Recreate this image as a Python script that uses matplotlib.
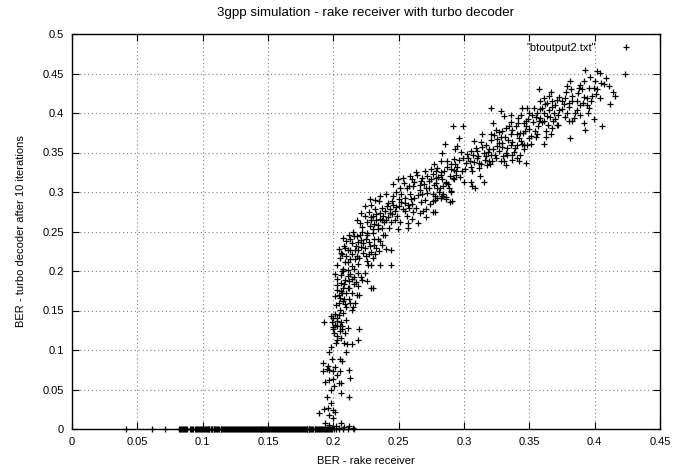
import matplotlib
matplotlib.use("Agg")
import matplotlib.pyplot as plt

# points lying on BER_turbo = 0
zero_x = [0.0413, 0.0612, 0.0712, 0.082, 0.0828, 0.0835, 0.0843, 0.085, 0.0858, 0.0868, 0.0874,
          0.088, 0.0905, 0.0912, 0.092, 0.0928, 0.094, 0.0947, 0.0958, 0.0963, 0.097, 0.0978,
          0.0985, 0.0992, 0.1, 0.1008, 0.1015, 0.1022, 0.103, 0.1037, 0.1046, 0.1052, 0.106,
          0.1068, 0.1075, 0.1083, 0.109, 0.1097, 0.1105, 0.1112, 0.112, 0.1128, 0.1137, 0.1143,
          0.115, 0.1158, 0.1165, 0.1172, 0.118, 0.1188, 0.1196, 0.1203, 0.121, 0.1217, 0.1225,
          0.1233, 0.124, 0.1248, 0.1255, 0.1262, 0.127, 0.1278, 0.1287, 0.1293, 0.13, 0.1308,
          0.1315, 0.1322, 0.133, 0.1337, 0.1345, 0.1352, 0.136, 0.1368, 0.1378, 0.1383, 0.139,
          0.1398, 0.1405, 0.1413, 0.142, 0.1428, 0.1437, 0.1443, 0.145, 0.1457, 0.1465, 0.1473,
          0.148, 0.1488, 0.1496, 0.1503, 0.151, 0.1517, 0.1525, 0.1532, 0.154, 0.1548, 0.1557,
          0.1563, 0.157, 0.1578, 0.1585, 0.1592, 0.16, 0.1608, 0.1616, 0.1622, 0.163, 0.1637,
          0.1645, 0.1652, 0.166, 0.1668, 0.1675, 0.1683, 0.169, 0.1698, 0.1706, 0.1712, 0.172,
          0.1727, 0.1735, 0.1742, 0.175, 0.1758, 0.1768, 0.1773, 0.178, 0.1788, 0.1795, 0.1802,
          0.181, 0.1817, 0.1825, 0.1832, 0.184, 0.1848, 0.1857, 0.1863, 0.187, 0.1877, 0.1885,
          0.1893, 0.19, 0.1908, 0.1916, 0.1922, 0.193, 0.1937, 0.1945, 0.1952, 0.196, 0.1968,
          0.1975, 0.1983, 0.199, 0.2005, 0.202, 0.2045, 0.2075, 0.211, 0.2155]

# scattered cloud (rake BER, turbo BER) - outer points
cloud_x = [
    0.189, 0.193, 0.196, 0.1995, 0.201, 0.198, 0.195, 0.197, 0.200, 0.194, 0.197, 0.202,
    0.206, 0.208, 0.212, 0.215, 0.204, 0.199,
    0.192, 0.192, 0.195, 0.197, 0.1995, 0.205, 0.212, 0.194, 0.197, 0.2005, 0.204, 0.206,
    0.2055, 0.213, 0.212, 0.205, 0.207, 0.2095,
    0.193, 0.198, 0.200, 0.201, 0.1995, 0.2005, 0.2025, 0.205, 0.207, 0.209, 0.206, 0.208,
    0.2105, 0.214, 0.219, 0.2195, 0.198, 0.2025, 0.197, 0.2025, 0.206, 0.2095, 0.2075,
    0.201, 0.2075, 0.211, 0.2055, 0.203, 0.201, 0.205, 0.2075, 0.210, 0.212, 0.215, 0.2165,
    0.218, 0.220, 0.219, 0.2155, 0.212, 0.2145, 0.212, 0.2095, 0.2075, 0.211, 0.2145, 0.205,
    0.204, 0.2285, 0.2305, 0.226, 0.2215, 0.2065,
    0.2025, 0.2075, 0.205, 0.206, 0.209, 0.2095, 0.2125, 0.2145, 0.213, 0.218, 0.2205, 0.219,
    0.2215, 0.2225, 0.220, 0.2165, 0.214, 0.2075, 0.2265, 0.229, 0.225, 0.2275, 0.2315, 0.235,
    0.240, 0.2445, 0.2445, 0.2375, 0.234, 0.2395, 0.2305, 0.2165, 0.225, 0.2305, 0.2355, 0.2115,
    0.218, 0.2205, 0.224, 0.2275, 0.2305, 0.233, 0.236, 0.2395, 0.243, 0.247, 0.2495, 0.248,
    0.245, 0.2415, 0.235, 0.240, 0.2455, 0.2505, 0.2545, 0.258, 0.261, 0.2645, 0.257, 0.257,
    0.2685, 0.271, 0.2765, 0.2765, 0.2795, 0.283, 0.286, 0.2895, 0.290, 0.228, 0.2305, 0.234,
    0.2375, 0.2425, 0.2255, 0.229, 0.232, 0.2375, 0.2405, 0.2545, 0.2595,
    0.2455, 0.2495, 0.2535, 0.2585, 0.263, 0.267, 0.2695, 0.272, 0.2765, 0.2825, 0.2865, 0.2915,
    0.294, 0.256, 0.261, 0.266, 0.2785, 0.2885, 0.2735,
    0.2776, 0.2776, 0.2822, 0.286, 0.291, 0.290, 0.2796, 0.284, 0.2865, 0.2925, 0.294, 0.289,
    0.2822, 0.2784, 0.2771, 0.2822, 0.2835, 0.2873, 0.2898, 0.2924, 0.295, 0.2987, 0.2995,
    0.2784, 0.2745,
    0.2852, 0.2919, 0.2995, 0.2962, 0.295, 0.293, 0.3025, 0.3046, 0.3071, 0.310, 0.3013, 0.3056,
    0.3115, 0.3051, 0.3081, 0.3153, 0.3064, 0.3076, 0.3140, 0.3127, 0.3165, 0.319, 0.3204,
    0.3165, 0.319, 0.3242, 0.3267, 0.3293, 0.328, 0.3293, 0.3242, 0.3224, 0.3204, 0.3285,
    0.3306, 0.3356, 0.3344, 0.3356, 0.3369, 0.333, 0.3318, 0.3306, 0.3318, 0.3369, 0.3407,
    0.3428, 0.3458, 0.3445, 0.342, 0.3407, 0.3413, 0.3433, 0.3471, 0.3484, 0.3496, 0.3471,
    0.3496, 0.3484, 0.3509, 0.356, 0.3611, 0.3267, 0.3153, 0.3115, 0.328, 0.3326, 0.3382,
    0.342, 0.3471, 0.3255, 0.3216, 0.3178, 0.3102, 0.3204, 0.3356, 0.3407, 0.3452, 0.3445,
    0.3522, 0.3535, 0.356, 0.3585, 0.3611, 0.3636, 0.3649, 0.3585, 0.3611, 0.3649, 0.3636,
    0.3572, 0.3674, 0.3687, 0.370, 0.3712, 0.3674, 0.3624, 0.3662, 0.3725, 0.3751, 0.3764,
    0.3776, 0.3789, 0.3809, 0.3827, 0.3865, 0.3878, 0.3891, 0.3916, 0.3929, 0.3962, 0.398,
    0.3942, 0.3911, 0.3865, 0.384, 0.3789, 0.3827, 0.3916, 0.3929, 0.3954, 0.3993, 0.3814,
    0.3712, 0.3662, 0.3802, 0.3598, 0.3573,
    0.4018, 0.4038, 0.4048, 0.4069, 0.4089, 0.4107, 0.4013, 0.4043, 0.4139, 0.4158, 0.412,
    0.4056, 0.4234, 0.3993,
]
cloud_y = [
    0.020, 0.025, 0.026, 0.024, 0.021, 0.033, 0.041, 0.018, 0.014, 0.007, 0.005, 0.004,
    0.008, 0.002, 0.004, 0.001, 0.001, 0.001,
    0.084, 0.073, 0.076, 0.075, 0.074, 0.074, 0.075, 0.060, 0.062, 0.055, 0.058, 0.058,
    0.046, 0.064, 0.041, 0.088, 0.086, 0.097,
    0.135, 0.143, 0.140, 0.132, 0.126, 0.121, 0.130, 0.124, 0.126, 0.121, 0.115, 0.109,
    0.108, 0.107, 0.113, 0.126, 0.104, 0.113, 0.098, 0.140, 0.136, 0.138, 0.147,
    0.196, 0.200, 0.194, 0.185, 0.176, 0.168, 0.166, 0.162, 0.155, 0.164, 0.154, 0.159,
    0.170, 0.170, 0.181, 0.183, 0.187, 0.190, 0.179, 0.172, 0.179, 0.201, 0.151, 0.151,
    0.160, 0.179, 0.179, 0.187, 0.193, 0.172,
    0.208, 0.242, 0.217, 0.223, 0.229, 0.219, 0.227, 0.235, 0.240, 0.244, 0.246, 0.237,
    0.231, 0.223, 0.217, 0.215, 0.206, 0.202, 0.208, 0.207, 0.241, 0.237, 0.233, 0.225,
    0.228, 0.227, 0.208, 0.233, 0.241, 0.246, 0.248, 0.227, 0.219, 0.217, 0.208, 0.212,
    0.265, 0.261, 0.270, 0.275, 0.270, 0.265, 0.274, 0.276, 0.274, 0.265, 0.253, 0.281,
    0.289, 0.286, 0.289, 0.297, 0.295, 0.291, 0.286, 0.280, 0.275, 0.261, 0.261, 0.255,
    0.276, 0.278, 0.275, 0.289, 0.293, 0.295, 0.291, 0.287, 0.300, 0.257, 0.253, 0.253,
    0.255, 0.255, 0.248, 0.264, 0.278, 0.264, 0.265, 0.276, 0.291,
    0.310, 0.316, 0.318, 0.320, 0.325, 0.314, 0.310, 0.320, 0.323, 0.325, 0.312, 0.318,
    0.327, 0.305, 0.308, 0.303, 0.312, 0.305, 0.305,
    0.275, 0.290, 0.293, 0.294, 0.288, 0.301, 0.305, 0.307, 0.313, 0.316, 0.322, 0.320,
    0.322, 0.326, 0.335, 0.339, 0.349, 0.332, 0.335, 0.328, 0.332, 0.326, 0.343,
    0.318, 0.316,
    0.361, 0.383, 0.383, 0.368, 0.358, 0.354, 0.348, 0.339, 0.347, 0.343, 0.337, 0.332,
    0.330, 0.313, 0.305, 0.313, 0.307, 0.364, 0.373, 0.363, 0.360, 0.354, 0.347,
    0.345, 0.339, 0.343, 0.352, 0.362, 0.369, 0.377, 0.379, 0.387, 0.406, 0.402,
    0.396, 0.398, 0.383, 0.373, 0.363, 0.356, 0.349, 0.339, 0.334, 0.341, 0.343,
    0.347, 0.354, 0.361, 0.368, 0.373, 0.387, 0.397, 0.390, 0.406, 0.400, 0.383,
    0.368, 0.360, 0.371, 0.373, 0.361, 0.362, 0.349, 0.337, 0.339, 0.347, 0.351,
    0.339, 0.337, 0.358, 0.339, 0.334, 0.352, 0.373, 0.360, 0.360, 0.375, 0.406,
    0.398, 0.406, 0.400, 0.394, 0.390, 0.396, 0.404, 0.415, 0.419, 0.421, 0.413,
    0.430, 0.408, 0.400, 0.392, 0.385, 0.381, 0.377, 0.373, 0.404, 0.415, 0.411,
    0.419, 0.434, 0.441, 0.421, 0.415, 0.432, 0.436, 0.440, 0.454, 0.445, 0.421,
    0.419, 0.413, 0.404, 0.394, 0.400, 0.390, 0.387, 0.379, 0.406, 0.392, 0.368,
    0.417, 0.427, 0.413, 0.406, 0.390,
    0.453, 0.451, 0.438, 0.437, 0.444, 0.434, 0.424, 0.419, 0.426, 0.422, 0.412,
    0.384, 0.450, 0.432,
]

# dense core of the cloud
core_x = [
    0.208, 0.211, 0.214, 0.216, 0.217, 0.219, 0.221, 0.223, 0.224, 0.226, 0.228, 0.229,
    0.231, 0.233, 0.236, 0.238, 0.212, 0.215, 0.222, 0.209, 0.213, 0.218, 0.227, 0.232,
    0.207, 0.204, 0.210, 0.226, 0.219, 0.216,
    0.203, 0.206, 0.208, 0.209, 0.213, 0.216, 0.217, 0.211, 0.206, 0.214, 0.204, 0.208,
    0.213, 0.209, 0.202, 0.219, 0.222, 0.224, 0.207, 0.203,
    0.201, 0.204, 0.203, 0.200, 0.205, 0.203, 0.207, 0.202, 0.199, 0.211,
    0.196, 0.201, 0.199, 0.203, 0.200, 0.198,
    0.226, 0.229, 0.231, 0.233, 0.234, 0.236, 0.237, 0.238, 0.239, 0.241, 0.242, 0.243,
    0.244, 0.245, 0.246, 0.247, 0.249, 0.250, 0.251, 0.252, 0.253, 0.255, 0.256, 0.257,
    0.259, 0.260, 0.262, 0.263, 0.265, 0.267, 0.268, 0.270, 0.272, 0.274, 0.276, 0.278,
    0.281, 0.284, 0.229, 0.232, 0.236, 0.248, 0.252, 0.222, 0.221, 0.224, 0.228, 0.260,
    0.266, 0.271,
    0.251, 0.254, 0.258, 0.260, 0.262, 0.264, 0.266, 0.268, 0.270, 0.273, 0.275, 0.277,
    0.279, 0.280, 0.283, 0.285, 0.287, 0.288, 0.290, 0.292, 0.293, 0.296, 0.297, 0.298,
    0.301, 0.303, 0.305, 0.306, 0.308, 0.309, 0.311, 0.313, 0.314, 0.316, 0.318, 0.320,
    0.322, 0.324, 0.271, 0.282, 0.300, 0.312,
    0.321, 0.323, 0.325, 0.327, 0.329, 0.331, 0.332, 0.334, 0.336, 0.337, 0.339, 0.340,
    0.341, 0.343, 0.344, 0.346, 0.347, 0.349, 0.350, 0.351, 0.353, 0.354, 0.355, 0.357,
    0.358, 0.360, 0.361, 0.362, 0.364, 0.366, 0.367, 0.368, 0.370, 0.372, 0.373, 0.375,
    0.377, 0.378, 0.380, 0.382, 0.383, 0.385, 0.387, 0.389, 0.390, 0.392, 0.394, 0.396,
    0.397, 0.400, 0.402, 0.395, 0.389, 0.380, 0.372, 0.363, 0.355, 0.346, 0.337, 0.330,
]
core_y = [
    0.232, 0.226, 0.221, 0.244, 0.232, 0.226, 0.239, 0.236, 0.229, 0.245, 0.232, 0.224,
    0.241, 0.229, 0.238, 0.245, 0.245, 0.249, 0.249, 0.212, 0.215, 0.219, 0.221, 0.222,
    0.221, 0.228, 0.238, 0.213, 0.209, 0.203,
    0.190, 0.195, 0.184, 0.189, 0.196, 0.192, 0.186, 0.178, 0.175, 0.172, 0.169, 0.164,
    0.160, 0.158, 0.157, 0.197, 0.188, 0.197, 0.200, 0.182,
    0.146, 0.144, 0.137, 0.129, 0.131, 0.118, 0.131, 0.109, 0.135, 0.128,
    0.080, 0.079, 0.088, 0.068, 0.063, 0.050,
    0.262, 0.268, 0.260, 0.272, 0.258, 0.266, 0.280, 0.270, 0.262, 0.282, 0.268, 0.279,
    0.262, 0.272, 0.283, 0.276, 0.270, 0.282, 0.262, 0.287, 0.278, 0.293, 0.270, 0.283,
    0.298, 0.285, 0.292, 0.280, 0.296, 0.287, 0.297, 0.290, 0.299, 0.285, 0.298, 0.295,
    0.300, 0.298, 0.283, 0.290, 0.295, 0.300, 0.297, 0.256, 0.274, 0.282, 0.291, 0.266,
    0.274, 0.268,
    0.305, 0.312, 0.308, 0.316, 0.313, 0.321, 0.309, 0.318, 0.326, 0.314, 0.329, 0.309,
    0.330, 0.319, 0.316, 0.326, 0.339, 0.310, 0.329, 0.342, 0.335, 0.340, 0.319, 0.351,
    0.329, 0.343, 0.352, 0.327, 0.338, 0.356, 0.345, 0.335, 0.357, 0.341, 0.351, 0.335,
    0.355, 0.347, 0.305, 0.305, 0.313, 0.320,
    0.366, 0.372, 0.367, 0.376, 0.357, 0.370, 0.381, 0.366, 0.389, 0.378, 0.356, 0.383,
    0.394, 0.375, 0.365, 0.387, 0.377, 0.393, 0.380, 0.361, 0.389, 0.377, 0.395, 0.383,
    0.405, 0.389, 0.400, 0.412, 0.385, 0.395, 0.415, 0.390, 0.410, 0.398, 0.420, 0.405,
    0.395, 0.426, 0.408, 0.430, 0.415, 0.400, 0.425, 0.410, 0.430, 0.420, 0.410, 0.432,
    0.415, 0.440, 0.430, 0.400, 0.398, 0.390, 0.385, 0.370, 0.370, 0.360, 0.347, 0.345,
]

x_ticks = [0, 0.05, 0.1, 0.15, 0.2, 0.25, 0.3, 0.35, 0.4, 0.45]
x_tick_labels = ["0", "0.05", "0.1", "0.15", "0.2", "0.25", "0.3", "0.35", "0.4", "0.45"]
y_ticks = [0, 0.05, 0.1, 0.15, 0.2, 0.25, 0.3, 0.35, 0.4, 0.45, 0.5]
y_tick_labels = ["0", "0.05", "0.1", "0.15", "0.2", "0.25", "0.3", "0.35", "0.4", "0.45", "0.5"]

plt.rcParams['font.family'] = ['Liberation Sans', 'DejaVu Sans']
plt.rcParams['font.size'] = 8

fig = plt.figure(figsize=(6.9, 4.7), dpi=100)
ax = fig.add_axes([72/690, 1 - 429/470, (660-72)/690, (429-34)/470])

all_x = zero_x + cloud_x + core_x
all_y = [0.0] * len(zero_x) + cloud_y + core_y
ax.plot(all_x, all_y, linestyle='none', marker='+', markersize=5, markeredgewidth=0.9,
        color='black', label='"btoutput2.txt"', clip_on=False, zorder=3)

ax.set_xlim(0, 0.45)
ax.set_ylim(0, 0.5)
ax.set_xticks(x_ticks)
ax.set_xticklabels(x_tick_labels)
ax.set_yticks(y_ticks)
ax.set_yticklabels(y_tick_labels)
ax.tick_params(direction='in', top=True, right=True, length=5, width=0.8, pad=6)
ax.grid(True, linestyle=(0, (1, 2.5)), color='#808080', linewidth=0.8)
for s in ax.spines.values():
    s.set_linewidth(1.0)

ax.set_xlabel('BER - rake receiver', labelpad=6)
ax.set_ylabel('BER - turbo decoder after 10 iterations', labelpad=12)
ax.set_title('3gpp simulation - rake receiver with turbo decoder', pad=13)

leg = ax.legend(loc='upper right', bbox_to_anchor=(1 - 17/588, 1), frameon=False,
                markerfirst=False, handlelength=1.5, borderaxespad=0.4, handletextpad=1.9)

fig.savefig('out.png', dpi=100)
